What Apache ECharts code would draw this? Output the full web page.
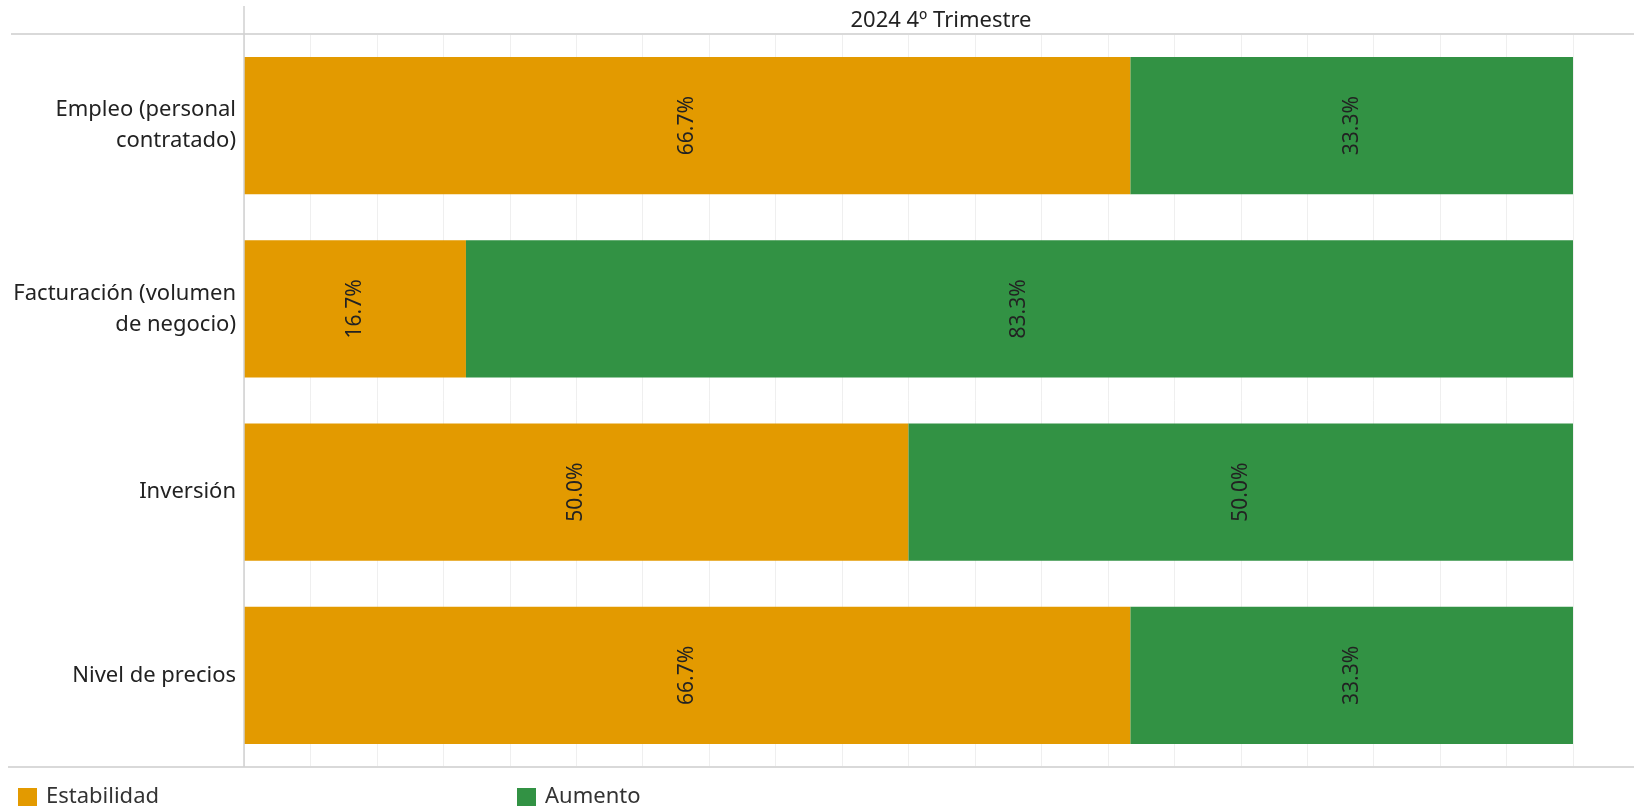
<!DOCTYPE html>
<html>
<head>
<meta charset="utf-8">
<style>
html,body{margin:0;padding:0;background:#fff;}
#chart{width:1634px;height:807px;}
</style>
<script src="https://cdn.jsdelivr.net/npm/echarts@6/dist/echarts.min.js"></script>
</head>
<body>
<div id="chart"></div>
<script>
const categories = ['Empleo (personal\ncontratado)', 'Facturación (volumen\nde negocio)', 'Inversión', 'Nivel de precios'];
const estabilidad = [66.7, 16.7, 50.0, 66.7];
const aumento = [33.3, 83.3, 50.0, 33.3];
const headerTitle = '2024 4º Trimestre';

const FONT = '"Noto Sans", sans-serif';
const chart = echarts.init(document.getElementById('chart'));

const labelCfg = {
  show: true,
  position: 'inside',
  rotate: 90,
  fontFamily: FONT,
  fontSize: 21,
  color: '#222',
  formatter: p => p.value.toFixed(1) + '%'
};

const legendText = { fontFamily: FONT, fontSize: 22, color: '#333', padding: [0, 0, 0, 4] };

chart.setOption({
  animation: false,
  backgroundColor: '#fff',
  grid: { left: 244, right: 61, top: 34, bottom: 40, containLabel: false },
  xAxis: {
    type: 'value', min: 0, max: 100, interval: 5, position: 'top',
    axisLine: { show: false }, axisTick: { show: false }, axisLabel: { show: false },
    splitLine: { show: true, lineStyle: { color: '#efefef', width: 1 } }
  },
  yAxis: {
    type: 'category', data: categories, inverse: true,
    axisLine: { show: false }, axisTick: { show: false },
    axisLabel: { fontFamily: FONT, fontSize: 22, color: '#222', margin: 8, lineHeight: 31, align: 'right' },
    splitLine: { show: false }
  },
  legend: [
    { data: ['Estabilidad'], left: 18, top: 786, padding: 0, icon: 'rect', itemWidth: 19, itemHeight: 18, itemGap: 8,
      textStyle: legendText },
    { data: ['Aumento'], left: 517, top: 786, padding: 0, icon: 'rect', itemWidth: 19, itemHeight: 18, itemGap: 8,
      textStyle: legendText }
  ],
  graphic: [
    { type: 'line', shape: { x1: 11, y1: 34, x2: 1634, y2: 34 }, style: { stroke: '#d9d9d9', lineWidth: 2 }, z: 10 },
    { type: 'line', shape: { x1: 8, y1: 767, x2: 1634, y2: 767 }, style: { stroke: '#d9d9d9', lineWidth: 2 }, z: 10 },
    { type: 'line', shape: { x1: 244, y1: 6, x2: 244, y2: 767 }, style: { stroke: '#d0d0d0', lineWidth: 1.5 }, z: 10 },
    { type: 'text', x: 941, y: 21, style: { text: headerTitle, fontFamily: FONT, fontSize: 22, fill: '#222', textAlign: 'center', textVerticalAlign: 'middle' }, z: 10 }
  ],
  series: [
    { name: 'Estabilidad', type: 'bar', stack: 'total', data: estabilidad, barCategoryGap: '25%',
      itemStyle: { color: '#E39A00' }, label: labelCfg },
    { name: 'Aumento', type: 'bar', stack: 'total', data: aumento, barCategoryGap: '25%',
      itemStyle: { color: '#329244' }, label: labelCfg }
  ]
});
</script>
</body>
</html>
